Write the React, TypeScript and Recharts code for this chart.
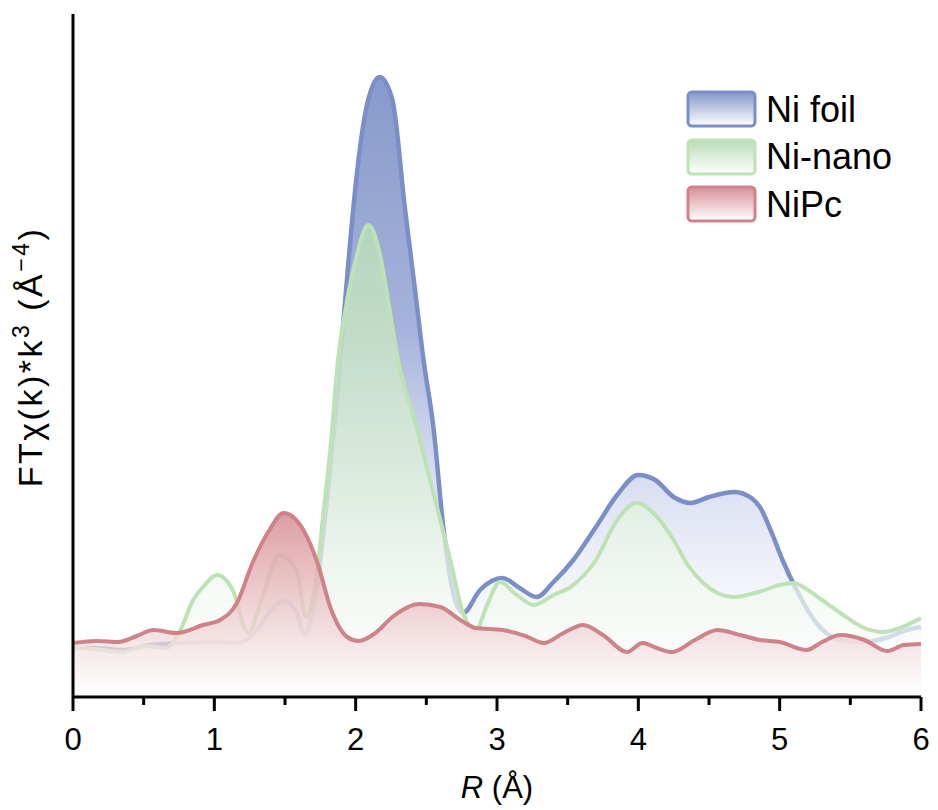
import { Area, AreaChart, Legend, XAxis, YAxis } from "recharts";

// R (Å) positions and FT magnitudes (arbitrary units)
const foilR = [0, 0.15, 0.35, 0.55, 0.75, 1.0, 1.16, 1.3, 1.4, 1.49, 1.58, 1.64, 1.7, 1.75, 1.8, 1.85, 1.89, 1.95, 2.0, 2.08, 2.17, 2.26, 2.35, 2.42, 2.48, 2.55, 2.62, 2.69, 2.76, 2.88, 3.04, 3.16, 3.28, 3.4, 3.54, 3.7, 3.85, 4.0, 4.12, 4.25, 4.37, 4.5, 4.68, 4.8, 4.86, 4.95, 5.02, 5.12, 5.26, 5.43, 5.59, 5.75, 5.9, 6.0];
const foilY = [4.9, 4.9, 4.7, 5.2, 5.4, 5.5, 5.4, 6.7, 8.7, 9.6, 8.5, 6.2, 9.0, 13.7, 20.2, 27.2, 33.7, 43.7, 51.2, 59.2, 62.0, 59.7, 48.7, 40.7, 33.7, 27.0, 17.0, 10.4, 8.4, 10.7, 11.9, 10.9, 10.0, 11.5, 13.7, 17.0, 20.2, 22.2, 21.7, 20.0, 19.4, 20.0, 20.5, 19.9, 19.0, 16.2, 13.7, 10.7, 7.4, 5.7, 5.5, 5.9, 6.7, 7.0];

const nanoR = [0, 0.15, 0.35, 0.5, 0.66, 0.76, 0.85, 0.92, 1.02, 1.13, 1.24, 1.34, 1.46, 1.58, 1.65, 1.72, 1.77, 1.82, 1.875, 1.94, 2.0, 2.09, 2.18, 2.24, 2.3, 2.43, 2.55, 2.67, 2.76, 2.85, 2.93, 3.02, 3.14, 3.26, 3.4, 3.52, 3.7, 3.85, 3.99, 4.12, 4.25, 4.35, 4.46, 4.67, 4.85, 5.0, 5.1, 5.2, 5.3, 5.43, 5.6, 5.73, 5.85, 6.0];
const nanoY = [5.0, 4.8, 4.5, 5.1, 4.9, 6.7, 9.7, 11.0, 12.2, 10.7, 6.4, 10.0, 14.2, 12.7, 8.0, 11.7, 18.2, 24.7, 33.7, 39.7, 43.7, 47.2, 43.7, 38.7, 33.7, 27.0, 20.4, 13.7, 8.4, 6.7, 9.2, 11.5, 10.2, 9.2, 10.2, 11.0, 13.7, 17.7, 19.4, 18.2, 15.7, 13.2, 11.4, 10.0, 10.5, 11.2, 11.4, 10.7, 9.7, 8.4, 6.9, 6.5, 6.9, 7.9];

const pcR = [0, 0.17, 0.32, 0.45, 0.57, 0.73, 0.92, 1.04, 1.16, 1.27, 1.39, 1.49, 1.63, 1.73, 1.82, 1.94, 2.02, 2.14, 2.26, 2.45, 2.6, 2.74, 2.85, 3.04, 3.2, 3.33, 3.47, 3.61, 3.75, 3.92, 4.03, 4.13, 4.24, 4.4, 4.56, 4.72, 4.86, 5.0, 5.19, 5.3, 5.43, 5.6, 5.76, 5.88, 6.0];
const pcY = [5.4, 5.6, 5.5, 6.1, 6.7, 6.4, 7.2, 7.7, 9.4, 13.4, 16.7, 18.4, 16.7, 13.4, 9.0, 6.0, 5.6, 6.4, 8.0, 9.3, 9.0, 7.7, 6.9, 6.7, 6.1, 5.4, 6.4, 7.2, 6.2, 4.5, 5.4, 4.9, 4.5, 5.7, 6.7, 6.2, 5.7, 5.5, 4.7, 5.5, 6.2, 5.7, 4.6, 5.2, 5.3];

const xTicks = [0, 0.5, 1, 1.5, 2, 2.5, 3, 3.5, 4, 4.5, 5, 5.5, 6];

const series = [
  {
    name: "Ni foil", r: foilR, y: foilY, line: "#7a8ec7", grad: "gFoil", width: 4.5,
    stops: [["0%", "#8497ca", 0.97], ["40%", "#9dacd7", 0.92], ["62%", "#ccd3eb", 0.85], ["82%", "#eff1f9", 0.75], ["100%", "#ffffff", 0.7]],
  },
  {
    name: "Ni-nano", r: nanoR, y: nanoY, line: "#bde3b4", grad: "gNano", width: 4,
    stops: [["0%", "#b8dcb8", 0.85], ["45%", "#d6ecd3", 0.8], ["75%", "#f0f8ee", 0.72], ["100%", "#ffffff", 0.7]],
  },
  {
    name: "NiPc", r: pcR, y: pcY, line: "#cf8288", grad: "gPc", width: 4,
    stops: [["0%", "#d68f96", 0.88], ["50%", "#ebc4c7", 0.76], ["100%", "#ffffff", 0.7]],
  },
];

const toRows = (r: number[], y: number[]) => r.map((v, i) => ({ r: v, v: y[i] }));

const font = "'Liberation Sans', Arial, sans-serif";

const XTick = (props: any) => {
  const { x, y, payload } = props;
  const major = Number.isInteger(payload.value);
  return (
    <g>
      <line x1={x} x2={x} y1={y} y2={y + (major ? 14 : 8)} stroke="#000" strokeWidth={3} />
      {major && (
        <text x={x} y={y + 53} textAnchor="middle" fontSize={31} fontFamily={font} fill="#000">
          {payload.value}
        </text>
      )}
    </g>
  );
};

const renderLegend = () => (
  <div style={{ fontFamily: font }}>
    {series.map((s) => (
      <div key={s.name} style={{ display: "flex", alignItems: "center", height: 47.5 }}>
        <svg width={72} height={39} style={{ marginRight: 8 }}>
          <defs>
            <linearGradient id={"lg" + s.grad} x1="0" y1="0" x2="0" y2="1">
              <stop offset="0%" stopColor={s.stops[0][1] as string} />
              <stop offset="100%" stopColor="#ffffff" />
            </linearGradient>
          </defs>
          <rect x={2} y={2} width={67} height={34} rx={4} fill={`url(#lg${s.grad})`} stroke={s.line} strokeWidth={3} />
        </svg>
        <span style={{ fontSize: 36, color: "#000" }}>{s.name}</span>
      </div>
    ))}
  </div>
);

export default function App() {
  return (
    <div style={{ position: "absolute", left: 0, top: 0, background: "#fff" }}>
      <AreaChart width={938} height={810} margin={{ top: 14, right: 17, bottom: 53, left: 72 }}>
        <defs>
          {series.map((s) => (
            <linearGradient key={s.grad} id={s.grad} x1="0" y1="0" x2="0" y2="1">
              {s.stops.map(([o, c, op]) => (
                <stop key={o as string} offset={o as string} stopColor={c as string} stopOpacity={op as number} />
              ))}
            </linearGradient>
          ))}
        </defs>
        <XAxis
          type="number"
          dataKey="r"
          domain={[0, 6]}
          ticks={xTicks}
          interval={0}
          allowDuplicatedCategory={false}
          height={60}
          tickSize={0}
          tickMargin={0}
          tickLine={false}
          tick={<XTick />}
          axisLine={{ stroke: "#000", strokeWidth: 3 }}
          label={{
            content: () => (
              <text x={497} y={798} textAnchor="middle" fontSize={31} fontFamily={font} fill="#000">
                <tspan fontStyle="italic">R</tspan> (Å)
              </text>
            ),
          }}
        />
        <YAxis
          type="number"
          domain={[0, 68.3]}
          width={1}
          tick={false}
          tickLine={false}
          axisLine={{ stroke: "#000", strokeWidth: 3 }}
          label={{
            content: () => (
              <text
                transform="translate(42 357) rotate(-90)"
                textAnchor="middle"
                fontSize={34}
                letterSpacing={2.5}
                fontFamily={font}
                fill="#000"
              >
                FTχ(k)*k
                <tspan fontSize={23} dy={-13}>3</tspan>
                <tspan dy={13}> (Å</tspan>
                <tspan fontSize={23} dy={-13}>−4</tspan>
                <tspan dy={13}>)</tspan>
              </text>
            ),
          }}
        />
        {series.map((s) => (
          <Area
            key={s.name}
            name={s.name}
            data={toRows(s.r, s.y)}
            dataKey="v"
            type="monotone"
            stroke={s.line}
            strokeWidth={s.width}
            fill={`url(#${s.grad})`}
            fillOpacity={1}
            dot={false}
            activeDot={false}
            isAnimationActive={false}
          />
        ))}
        <Legend
          content={renderLegend}
          layout="vertical"
          verticalAlign="middle"
          align="center"
          wrapperStyle={{ left: 686, top: 86, width: 240 }}
        />
      </AreaChart>
    </div>
  );
}
